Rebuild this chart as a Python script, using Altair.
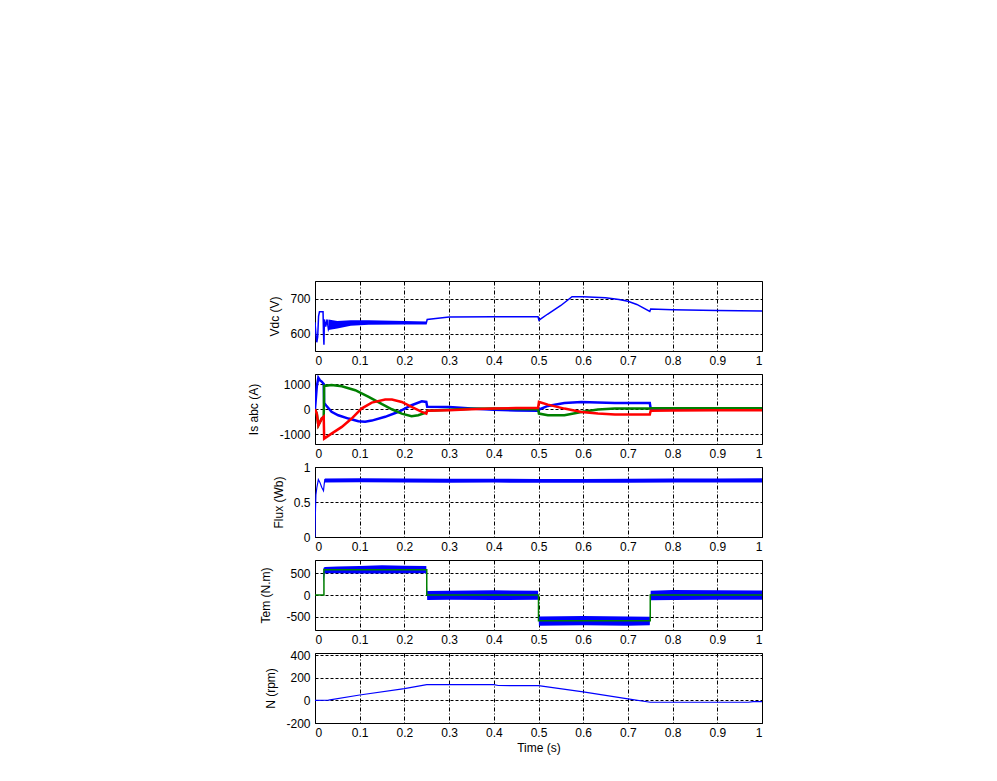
import altair as alt
import pandas as pd

# ---------------- data ----------------
x_ticks = [0, 0.1, 0.2, 0.3, 0.4, 0.5, 0.6, 0.7, 0.8, 0.9, 1]

# Panel 1: DC bus voltage
vdc_t = [0, 0.002, 0.004, 0.006, 0.008, 0.010, 0.018, 0.019, 0.020, 0.021, 0.024, 0.027,
         0.030, 0.035, 0.040, 0.050, 0.070, 0.100, 0.150, 0.200, 0.249, 0.251, 0.280,
         0.300, 0.400, 0.499, 0.501, 0.520, 0.550, 0.575, 0.600, 0.650, 0.680, 0.700,
         0.720, 0.749, 0.751, 0.800, 0.900, 1.0]
vdc_v = [632, 600, 575, 590, 650, 662, 662, 600, 568, 640, 620, 640,
         612, 628, 616, 622, 626, 630, 631, 631, 630, 640, 644,
         647, 648, 648, 638, 655, 680, 705, 705, 702, 697, 692,
         683, 663, 670, 668, 666, 664]
vdc_band_t = [0.030, 0.050, 0.080, 0.120, 0.200, 0.250]
vdc_band_lo = [610, 614, 622, 625, 626, 626]
vdc_band_hi = [640, 636, 638, 638, 636, 634]

# Panel 2: stator currents
ia_t = [0, 0.004, 0.0075, 0.011, 0.015, 0.0195, 0.0205, 0.025, 0.037, 0.052, 0.075, 0.097,
        0.112, 0.127, 0.157, 0.187, 0.216, 0.239, 0.249, 0.251, 0.3, 0.35, 0.4, 0.45,
        0.499, 0.501, 0.521, 0.558, 0.596, 0.633, 0.671, 0.708, 0.749, 0.751, 0.8, 0.9, 1.0]
ia_v = [0, 900, 1245, 1150, 1100, 1000, 250, 150, -100, -240, -370, -477,
        -500, -450, -300, -100, 160, 318, 290, 100, 90, 26, -20, -50,
        -60, -13, 132, 250, 291, 265, 250, 250, 250, 20, 10, 0, 0]
ib_t = [0, 0.004, 0.0075, 0.015, 0.0195, 0.0205, 0.037, 0.06, 0.09, 0.12, 0.15, 0.172,
        0.194, 0.216, 0.231, 0.249, 0.251, 0.3, 0.35, 0.4, 0.45, 0.499, 0.501, 0.521,
        0.558, 0.596, 0.633, 0.671, 0.708, 0.749, 0.751, 0.8, 0.9, 1.0]
ib_v = [0, -170, -635, -370, -300, 927, 967, 914, 755, 490, 200, 0,
        -172, -278, -240, -130, -60, -20, 20, 30, 10, 0, -172, -240,
        -240, -106, -13, 26, 26, 26, 40, 40, 40, 35]
ic_t = [0, 0.004, 0.0075, 0.015, 0.0195, 0.0205, 0.037, 0.06, 0.082, 0.104, 0.127, 0.157,
        0.172, 0.194, 0.216, 0.239, 0.249, 0.251, 0.3, 0.35, 0.4, 0.45, 0.499, 0.501,
        0.521, 0.558, 0.596, 0.633, 0.671, 0.708, 0.749, 0.751, 0.8, 0.9, 1.0]
ic_v = [0, -170, -635, -370, -300, -1165, -967, -700, -370, 26, 265, 384,
        384, 291, 93, -106, -172, -60, -40, 0, 30, 50, 50, 290,
        185, 26, -106, -172, -212, -212, -212, -60, -50, -40, -40]

# Panel 3: flux
flux_t = [0, 0.0005, 0.002, 0.004, 0.0075, 0.011, 0.015, 0.019, 0.0205, 0.022, 1.0]
flux_v = [0, 0.25, 0.6, 0.7, 0.82, 0.78, 0.71, 0.66, 0.75, 0.82, 0.80]
flux_band_t = [0.022, 0.1, 0.2, 0.3, 0.4, 0.5, 0.6, 0.7, 0.8, 0.9, 1.0]
flux_band_lo = [0.78, 0.781, 0.779, 0.776, 0.777, 0.776, 0.775, 0.776, 0.778, 0.779, 0.78]
flux_band_hi = [0.835, 0.84, 0.837, 0.831, 0.833, 0.830, 0.829, 0.831, 0.835, 0.837, 0.838]

# Panel 4: electromagnetic torque (reference + measured band)
tref_t = [0, 0.02, 0.02, 0.25, 0.25, 0.5, 0.5, 0.75, 0.75, 1.0]
tref_v = [0, 0, 580, 580, 0, 0, -590, -590, 0, 0]
tem_band_t = [0.0185, 0.019, 0.022, 0.05, 0.1, 0.15, 0.2, 0.249, 0.251, 0.3, 0.4, 0.499,
              0.501, 0.6, 0.7, 0.749, 0.751, 0.8, 0.9, 1.0]
tem_band_lo = [0, 300, 500, 495, 490, 490, 495, 500, -115, -110, -115, -110,
               -700, -690, -700, -690, -120, -115, -110, -110]
tem_band_hi = [0, 620, 640, 650, 665, 680, 670, 665, 90, 100, 110, 95,
               -490, -480, -490, -495, 100, 115, 110, 105]

# Panel 5: speed
n_t = [0, 0.03, 0.1, 0.2, 0.25, 0.4, 0.41, 0.5, 0.6, 0.7, 0.75, 0.97, 0.98, 1.0]
n_v = [0, 3, 48, 104, 140, 140, 132, 131, 76, 13, -16, -16, -10, -10]

BLUE, GREEN, RED = "#0000ff", "#008000", "#ff0000"
W, H = 447, 70
FONT = "Liberation Sans"


def line_df(t, v):
    return pd.DataFrame({"t": t, "v": v, "i": list(range(len(t)))})


def band_df(t, lo, hi):
    return pd.DataFrame({"t": t, "lo": lo, "hi": hi})


def xenc(title):
    ax = dict(values=x_ticks, labelExpr="toString(datum.value)")
    ax["title"] = title if title else None
    return alt.X("t:Q", scale=alt.Scale(domain=[0, 1], nice=False), axis=alt.Axis(**ax))


def yenc(field, dom, ticks, title, tp):
    return alt.Y(f"{field}:Q",
                 scale=alt.Scale(domain=dom, nice=False, zero=False),
                 axis=alt.Axis(values=ticks, title=title, titlePadding=tp,
                               labelExpr="toString(datum.value)"))


def line(t, v, color, sw, ycfg, xtitle=""):
    return alt.Chart(line_df(t, v)).mark_line(color=color, strokeWidth=sw, clip=True).encode(
        x=xenc(xtitle), y=yenc("v", *ycfg), order="i:Q")


def band(t, lo, hi, color, ycfg, xtitle=""):
    return alt.Chart(band_df(t, lo, hi)).mark_area(color=color, opacity=1, clip=True).encode(
        x=xenc(xtitle), y=yenc("lo", *ycfg), y2=alt.Y2("hi:Q"))


y1 = ([550, 750], [600, 700], "Vdc (V)", 8)
y2 = ([-1380, 1400], [-1000, 0, 1000], "Is abc (A)", 19)
y3 = ([0, 1], [0, 0.5, 1], "Flux (Wb)", 8)
y4 = ([-800, 800], [-500, 0, 500], "Tem (N.m)", 13)
y5 = ([-200, 420], [-200, 0, 200, 400], "N (rpm)", 8)

p1 = alt.layer(
    band(vdc_band_t, vdc_band_lo, vdc_band_hi, BLUE, y1),
    line(vdc_t, vdc_v, BLUE, 1.5, y1),
).properties(width=W, height=H)

p2 = alt.layer(
    line(ia_t, ia_v, BLUE, 2.5, y2),
    line(ib_t, ib_v, GREEN, 2.5, y2),
    line(ic_t, ic_v, RED, 2.5, y2),
).properties(width=W, height=H)

p3 = alt.layer(
    line(flux_t, flux_v, BLUE, 1.2, y3),
    band(flux_band_t, flux_band_lo, flux_band_hi, BLUE, y3),
).properties(width=W, height=H)

p4 = alt.layer(
    band(tem_band_t, tem_band_lo, tem_band_hi, BLUE, y4),
    line(tref_t, tref_v, GREEN, 1.5, y4),
).properties(width=W, height=H)

p5 = alt.layer(
    line(n_t, n_v, BLUE, 1.2, y5, "Time (s)"),
).properties(width=W, height=H)

chart = alt.vconcat(p1, p2, p3, p4, p5, spacing=23, bounds="flush").properties(
    padding={"left": 238, "top": 272, "right": 5, "bottom": 5},
    background="white",
).configure_axis(
    labelFont=FONT, labelFontSize=12, titleFont=FONT, titleFontSize=12,
    titleFontWeight="normal", labelColor="black", titleColor="black",
    domain=False, ticks=False, tickSize=0, labelPadding=5,
    gridColor="black", gridOpacity=1, gridWidth=1, gridDash=[3, 2],
).configure_axisX(
    labelPadding=4, titlePadding=4, gridDash=[4, 2, 1, 2],
).configure_view(
    stroke="black", strokeWidth=1,
)

chart.save("out.html", embed_options={"renderer": "svg", "actions": False})
